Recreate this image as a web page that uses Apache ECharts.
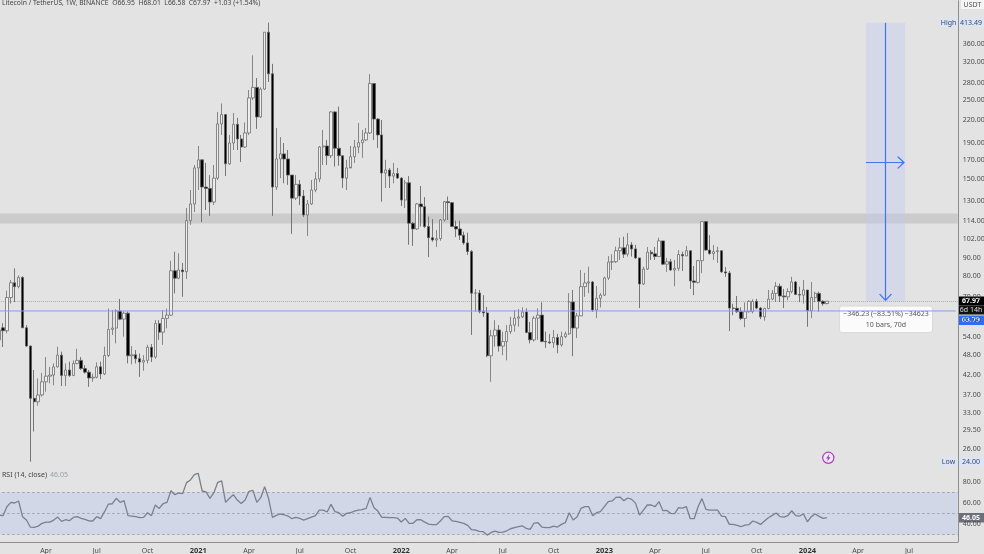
<!DOCTYPE html>
<html>
<head>
<meta charset="utf-8">
<style>html,body{margin:0;padding:0;background:#e3e3e3}#c{width:984px;height:554px}</style>
<script src="https://cdn.jsdelivr.net/npm/echarts@6/dist/echarts.min.js"></script>
</head>
<body>
<div id="c"></div>
<script>
const firstWeek = '2020-01-13';
const totalSlots = 246;
const opens = [
52.9,57.2,56.1,69.6,76.6,74.7,79.3,57.2,50.8,36.2,
35.4,37,40.3,41.8,42.1,44.4,47.9,42,43.5,42,
45.4,46.3,43.9,42.9,41.3,41.5,44.4,42.4,47.8,56.6,
57.1,63.8,60.5,62.9,47.7,48,46.8,45.8,46.3,50.4,
47.3,58.8,55.6,60.8,62.1,82.8,78.9,83.2,82.3,114.6,
127.7,161.3,170,142.5,141.2,129.3,151,214.6,228,165.7,
189.6,214,194.7,184.8,202.4,254,272,224.5,269,389,
297,142.5,171,176.7,171,154,132.6,145,134.4,118.9,
127.7,139.8,150.2,184.8,186,174.6,232,183.3,174.6,151,
161.3,173.5,184.8,190,193.4,202.4,278.8,221.5,199.8,156,
159.2,153,155.5,151,131,146.5,112.7,108.6,127.7,125.5,
110.3,102.6,101.1,102,115.1,129.6,128.8,110.3,108.6,104.3,
99.2,93.8,71.6,71.7,63.5,63,47.7,54.3,56.4,50.8,
52.3,55.8,58.2,60.9,61.4,63.4,55.5,52.9,60.9,62.1,
52.3,52.2,51.9,53.7,51.2,54,55,67.6,57.1,61.8,
74.7,76.5,77,64.2,69.3,70.7,79,87.6,87.8,94.3,
96.1,92.2,97.9,95.4,90,76,83.7,93.4,92.4,90.8,
100.5,86.4,87.8,83.2,84.1,92,91.2,94.3,77.5,76.8,
88.4,113.9,94.7,92.6,93.7,94.3,82.2,81.6,65,64.9,
63.5,60.8,63.5,63.5,67.9,65,61.4,64.8,68.9,71.5,
74.9,70.3,69.9,72.3,77,71,70.7,73.1,63.9,69.6,
71.5,67.9,66.95];
const closes = [
56.4,56.1,69.6,76.6,74.7,79.3,57.2,50.8,36.2,35.4,
37,40.3,41.8,42.1,44.4,47.9,42,43.5,42,45.4,
46.3,43.9,42.9,41.3,41.5,44.4,42.4,47.8,56.6,57.1,
63.8,60.5,62.9,47.7,48,46.8,45.8,46.3,50.4,47.3,
58.8,55.6,60.8,62.1,82.8,78.9,83.2,82.3,114.6,127.7,
161.3,170,142.5,141.2,129.3,151,214.6,228,165.7,189.6,
214,194.7,184.8,202.4,254,272,224.5,269,389,297,
142.5,171,176.7,171,154,132.6,145,134.4,118.9,127.7,
139.8,150.2,184.8,186,174.6,232,183.3,174.6,151,161.3,
173.5,184.8,190,193.4,202.4,278.8,221.5,199.8,156,159.2,
153,155.5,151,131,146.5,112.7,108.6,127.7,125.5,110.3,
102.6,101.1,102,115.1,129.6,128.8,110.3,108.6,104.3,99.2,
93.8,71.6,71.7,63.5,63,47.7,54.3,56.4,50.8,52.3,
55.8,58.2,60.9,61.4,63.4,55.5,52.9,60.9,62.1,52.3,
52.2,51.9,53.7,51.2,54,55,67.6,57.1,61.8,74.7,
76.5,77,64.2,69.3,70.7,79,87.6,87.8,94.3,96.1,
92.2,97.9,95.4,90,76,83.7,93.4,92.4,90.8,100.5,
86.4,87.8,83.2,84.1,92,91.2,94.3,77.5,76.8,88.4,
113.9,94.7,92.6,93.7,94.3,82.2,81.6,65,64.9,63.5,
60.8,63.5,67.9,67.9,65,61.4,64.8,68.9,71.5,74.9,
70.3,69.9,72.3,77,71,70.7,73.1,63.9,69.6,71.5,
67.9,66.9,67.97];
const highs = [
57.8,58.9,72.8,78,84.1,80.4,79.9,58.2,51,43.5,
41.2,42.7,47.3,44.4,45.4,50.6,49,45.4,45.9,46.3,
49.9,47.3,44.9,43.5,42.5,45.7,45.9,50.6,64.8,64.2,
64.5,69,63.6,63.6,50.8,49.5,48.4,47.9,51.2,51.5,
60.1,60.1,64.2,64.8,88.4,93.7,92.7,87.1,124.4,139.8,
164.4,186,170,166.7,154,164.4,232,245,228,199.8,
230.3,223.2,199.8,216.6,267.4,335,289,272,389,414,
316.8,209,197,189.6,181.2,154,154,149.2,139.8,131,
149.2,157,186,206.4,193.4,233,233,240,174.6,170,
186,193.4,216,206.4,209,296.5,278.8,223,220,170,
161.3,166.7,161.3,152,149.2,153,113.5,128.5,143.5,133.5,
117.7,115.8,107.9,115.8,130.2,134,129.3,114.5,114.6,106.7,
106,94.7,73.5,73.1,70.7,65.5,56.4,60.1,58.2,55.8,
58.2,61.4,64.2,64.6,65.3,64.9,59.4,61.7,64.9,67.5,
55.8,55,56.4,55,55.8,55.8,71.6,73.1,63,83.2,
81.7,85,77.5,75,71.6,79.7,91,92.2,96.8,102.6,
103.3,105.7,99.7,97.9,90,85,96.6,94.7,96.6,102.6,
100.5,90,89.4,88.8,94.7,93.7,97.3,94.3,85.4,88.8,
113.9,114,104.3,97.9,96.8,94.3,84.8,82.7,66.8,70.3,
65.3,67.4,68.4,68.8,69,65.5,65.2,73.1,73.1,77,
76.2,73.6,73.9,79.6,77.5,74.7,78,73.1,77,72.3,
72.3,68.4,68.01];
const lows = [
48.9,50.5,55.2,66.9,67.6,73.9,57.1,50.6,24,29.2,
34.5,36.6,37.8,39.9,39.4,44.2,39.2,39.2,41.6,41.8,
45.1,43.5,42.5,39,40.3,41.2,41,42.1,47.3,54.6,
51.7,60.1,54,45.4,45.1,45.4,41.6,43.3,45.4,45.8,
46.8,52.9,51.2,57,61.8,71.5,78.4,69.9,78.5,111.5,
121.2,139.8,113.5,122.8,118.2,126.8,149.2,199.8,153,164.4,
181.2,181.2,167.7,183.6,199.8,250.6,207.8,223,267.4,281.6,
118.2,139.8,151,146,144.5,105.2,131,126.8,117.4,103.8,
126.8,137.8,147.2,164.4,164.4,172,162.7,163.6,141.6,139.8,
162.5,166.7,177.5,172.3,192,201,193.4,183.6,129.6,141.6,
141.6,146,150.2,126,124.4,98,97.3,107.9,110.3,109.3,
90.5,100,96.6,100.6,113.9,115.1,110,103,101.1,98,
91.8,54.6,63.5,62.8,61.4,47.3,40.3,50.6,49,47.9,
46.3,55,55.8,57.6,60.9,55.2,51.7,52.3,52.9,52.1,
50.2,51.5,50.2,48.5,50.6,53.5,54.6,47.6,53.5,61.7,
69.9,71.6,63.4,60.9,65.3,70.3,78,83.2,87.1,88.8,
90,90.8,90.8,89.4,65,75.5,83.2,88.8,88.8,90.6,
85.9,82.2,82.7,74.9,82.7,82.7,91,73.6,70.7,76.2,
81.5,94.2,91.8,88.8,87.1,81.7,79.6,56,62.1,63,
60.1,57.4,63.1,62.8,64.5,60.5,59.9,64.5,68.4,67.6,
67.6,65,68.4,71.5,70.7,67.6,66.9,57.6,60.9,67.6,
63.5,66,66.58];
const rsi = [
48.4,47.8,56.3,60.4,59.8,61.7,46.9,43.7,37.1,36.8,
38,40.6,41.8,41.8,43.7,46.5,42.4,44,43.1,46.2,
46.9,45.3,44.3,43,42.8,46.9,45,51.6,58.8,59.1,
64.2,60.4,62,47.8,47.5,46.9,45.9,46.2,50.6,47.8,
57.9,54.7,59.1,60.4,71.4,67.6,69.2,68.6,79,81.5,
86.5,87.8,71.1,70.2,64.2,69.5,79.3,80.6,60.4,64.2,
67.6,62.6,59.4,62.6,70.8,71.7,60.4,64.8,75.2,64.2,
46.2,48.1,49.4,48.7,47.5,45,46.2,45.3,43.7,45,
46.5,47.8,53.1,53.1,51.3,58.5,51.6,50.6,47.2,50,
50.6,52.2,53.1,53.5,54.7,65.1,55.4,52.2,46.2,46.2,
45.9,45.9,45.6,41.8,45.3,40.6,40.6,44,44,41.8,
39.9,39.3,39.3,42.8,46.9,47.2,43,42.4,41.5,40.6,
38.7,34.6,34.3,33,32.7,29.5,32,33.3,32,32.4,
33.6,35.5,36.5,37.4,38.3,35.8,34.9,40.9,41.2,37.1,
36.5,36.5,38,37.1,39.6,41.2,50.6,43.7,46.5,54.7,
56.3,56.3,47.8,50.6,51.6,56.3,61,61.7,65.1,65.4,
62,64.5,63.2,59.4,48.4,53.1,57.9,57.9,56.3,61,
52.5,52.8,50,49.7,55.4,55,56.3,45,45,56.3,
63.9,53.8,53.1,53.1,53.1,47.5,46.9,39.6,39.6,38.7,
37.4,39,39.3,42.8,41.5,39.6,42.8,45.9,48.1,50.3,
46.9,46.5,47.8,52.5,47.8,47.5,49.4,42.1,46.9,49.4,
47.2,45.3,46.05];
const priceTicks = [26,29.5,33,37,42,48,54,60,70,80,90,102,114,130,150,170,190,220,250,280,320,360];
const rsiTicks = [40,60,80];
const timeTicks = {
 '2020-04-06':'Apr','2020-07-06':'Jul','2020-10-05':'Oct','2021-01-04':'2021',
 '2021-04-05':'Apr','2021-07-05':'Jul','2021-10-04':'Oct','2022-01-03':'2022',
 '2022-04-04':'Apr','2022-07-04':'Jul','2022-10-03':'Oct','2023-01-02':'2023',
 '2023-04-03':'Apr','2023-07-03':'Jul','2023-10-02':'Oct','2024-01-01':'2024',
 '2024-04-01':'Apr','2024-07-01':'Jul'};
const lastClose = 67.97, bluePrice = 63.79, zoneLow = 112.5, zoneHigh = 120;
const allTimeHigh = 413.49, arrowY = 167, downArrowEnd = 69.6;
const rangeStart = 222, rangeMid = 227, rangeEnd = 232;

const weeks = [];
for (let i = 0; i < totalSlots; i++) {
  const d = new Date(Date.parse(firstWeek + 'T00:00:00Z') + i * 7 * 86400000);
  weeks.push(d.toISOString().slice(0, 10));
}
const ohlc = opens.map((o, i) => [o, closes[i], lows[i], highs[i]]);

const FONT = '"Noto Sans", sans-serif';
const DIM = '#4a4a4a';
const BLUE = '#3f74f2';
const chevUp = 'path://M0 9.2 L5 0 L10 9.2 L9.1 9.9 L5 2.4 L0.9 9.9 Z M4.55 1 L5.45 1 L5.45 5.2 L4.55 5.2 Z';

const fmt2 = v => Number(v).toFixed(2);
const tag = (x, y, w, h, bg, text, color, fw) => ({
  type: 'group', z: 100,
  children: [
    { type: 'rect', shape: { x, y, width: w, height: h }, style: { fill: bg } },
    { type: 'text', style: { x: x + w / 2, y: y + h / 2, text, fill: color, font: (fw || 'normal') + ' 7px ' + FONT, align: 'center', verticalAlign: 'middle' } }
  ]
});

const option = {
  animation: false,
  backgroundColor: '#e3e3e3',
  grid: [
    { left: -2.85, top: 0.8, width: 960.6, height: 468, outerBoundsMode: 'none' },
    { left: -2.85, top: 468, width: 960.6, height: 74, outerBoundsMode: 'none' }
  ],
  xAxis: [
    { type: 'category', gridIndex: 0, data: weeks, boundaryGap: true,
      axisLine: { show: false }, axisTick: { show: false }, axisLabel: { show: false }, splitLine: { show: false } },
    { type: 'category', gridIndex: 1, data: weeks, boundaryGap: true,
      axisLine: { show: true, lineStyle: { color: '#8f8f8f', width: 1 } },
      axisTick: { show: false },
      splitLine: { show: false },
      axisLabel: {
        show: true, margin: 5, color: DIM, fontFamily: FONT, fontSize: 7, hideOverlap: false,
        interval: (i, v) => timeTicks[v] !== undefined,
        formatter: v => {
          const t = timeTicks[v] || '';
          return /^\d{4}$/.test(t) ? '{y|' + t + '}' : t;
        },
        rich: { y: { fontWeight: 'bold', fontSize: 7.5, color: '#333', fontFamily: FONT } }
      } }
  ],
  yAxis: [
    { type: 'log', logBase: 10, gridIndex: 0, position: 'right', min: 22.92, max: 476.9, scale: true,
      axisLine: { show: true, onZero: false, lineStyle: { color: '#8f8f8f', width: 1 } },
      axisTick: { show: false }, splitLine: { show: false }, minorTick: { show: false },
      axisLabel: { show: true, inside: false, margin: 5, color: DIM, fontFamily: FONT, fontSize: 7,
        customValues: priceTicks, formatter: fmt2 } },
    { type: 'value', gridIndex: 1, position: 'right', min: 23, max: 92.8,
      axisLine: { show: true, onZero: false, lineStyle: { color: '#8f8f8f', width: 1 } },
      axisTick: { show: false }, splitLine: { show: false },
      axisLabel: { show: true, margin: 5, color: DIM, fontFamily: FONT, fontSize: 7,
        customValues: rsiTicks, formatter: fmt2 } }
  ],
  series: [
    {
      type: 'candlestick', xAxisIndex: 0, yAxisIndex: 0, data: ohlc, barWidth: 2.9, z: 5,
      itemStyle: { color: '#eeeeee', color0: '#000000', borderColor: '#6e6e6e', borderColor0: '#5a5a5a', borderWidth: 0.8 },
      markArea: {
        silent: true,
        data: [
          [{ yAxis: zoneHigh, itemStyle: { color: '#cbcbcb' } }, { yAxis: zoneLow }],
          [{ xAxis: weeks[rangeStart], yAxis: allTimeHigh, itemStyle: { color: 'rgba(190,200,238,0.42)' } },
           { xAxis: weeks[rangeEnd], yAxis: lastClose }]
        ]
      },
      markLine: {
        silent: true, symbol: 'none', animation: false,
        label: { show: false },
        data: [
          [ { coord: [weeks[rangeMid], allTimeHigh], symbol: 'none', lineStyle: { color: BLUE, width: 1.2, type: 'solid' } },
            { coord: [weeks[rangeMid], downArrowEnd], symbol: chevUp, symbolSize: [13, 7.5] } ],
          [ { coord: [weeks[rangeStart], arrowY], symbol: 'none', lineStyle: { color: BLUE, width: 1.2, type: 'solid' } },
            { coord: [weeks[rangeEnd - 1], arrowY], symbol: chevUp, symbolSize: [13, 7.5] } ]
        ]
      }
    },
    {
      type: 'line', xAxisIndex: 0, yAxisIndex: 0, data: [], showSymbol: false, z: 3,
      markLine: { silent: true, symbol: 'none', animation: false, label: { show: false },
        lineStyle: { color: '#adadad', width: 1, type: 'dotted' }, data: [{ yAxis: lastClose }] }
    },
    {
      type: 'line', xAxisIndex: 0, yAxisIndex: 0, data: [{ value: [weeks[0], bluePrice] }, { value: [weeks[totalSlots - 1], bluePrice] }],
      showSymbol: false, symbol: 'none', z: 6,
      lineStyle: { color: '#7fa0ea', width: 1 }
    },
    {
      type: 'line', xAxisIndex: 1, yAxisIndex: 1, data: rsi, showSymbol: false, symbol: 'none', z: 5,
      lineStyle: { color: '#7c7f8e', width: 1.3 },
      markArea: { silent: true, data: [[{ yAxis: 70, itemStyle: { color: '#d2d7e7' } }, { yAxis: 30 }]] },
      markLine: {
        silent: true, symbol: 'none', animation: false, label: { show: false },
        lineStyle: { color: '#a3a5ad', width: 1, type: [2.5, 2.5] },
        data: [{ yAxis: 70 }, { yAxis: 50 }, { yAxis: 30 }]
      }
    }
  ],
  graphic: [
    { type: 'text', z: 100, style: { x: 2, y: 3.5, text: 'Litecoin / TetherUS, 1W, BINANCE  O66.95  H68.01  L66.58  C67.97  +1.03 (+1.54%)',
        fill: '#444', font: '6.8px ' + FONT, verticalAlign: 'middle' } },
    { type: 'text', z: 100, style: { x: 2, y: 475, text: 'RSI (14, close)', fill: '#444', font: '7px ' + FONT, verticalAlign: 'middle' } },
    { type: 'text', z: 100, style: { x: 50, y: 475, text: '46.05', fill: '#9a9da8', font: '7px ' + FONT, verticalAlign: 'middle' } },
    tag(961, 0, 23, 9, '#f5f5f5', 'USDT', '#555'),
    tag(940, 18, 17, 9, '#dbe5f6', 'High', '#3a4a6b'),
    tag(958, 18, 26, 9, '#dbe5f6', '413.49', '#3a4a6b'),
    tag(940, 457, 17, 9, '#dbe5f6', 'Low', '#3a4a6b'),
    tag(958, 457, 26, 9, '#dbe5f6', '24.00', '#3a4a6b'),
    tag(958, 296.5, 26, 9, '#000', '67.97', '#fff', 'bold'),
    tag(958, 305.5, 26, 9, '#111', '6d 14h', '#ddd'),
    tag(958, 315.5, 26, 9.5, '#2f6df5', '63.79', '#fff', 'bold'),
    tag(958, 513, 26, 9.5, '#6d6f7a', '46.05', '#fff', 'bold'),
    { type: 'group', z: 100, children: [
      { type: 'rect', shape: { x: 840, y: 306.5, width: 92, height: 25.5, r: 2 }, style: { fill: '#fbfbfb', shadowBlur: 2, shadowColor: 'rgba(0,0,0,0.12)' } },
      { type: 'text', style: { x: 886, y: 313.5, text: '\u2212346.23 (\u221283.51%) \u221234623', fill: '#555', font: '7px ' + FONT, align: 'center', verticalAlign: 'middle' } },
      { type: 'text', style: { x: 886, y: 324.5, text: '10 bars, 70d', fill: '#555', font: '7px ' + FONT, align: 'center', verticalAlign: 'middle' } }
    ] },
    { type: 'group', z: 100, children: [
      { type: 'circle', shape: { cx: 828.3, cy: 457.8, r: 5.6 }, style: { fill: '#ececf0', stroke: '#b23ac4', lineWidth: 1.2 } },
      { type: 'polygon', shape: { points: [[829.6,453.8],[826,458.4],[828,458.4],[827,461.8],[830.6,457.2],[828.6,457.2]] }, style: { fill: '#b23ac4' } }
    ] }
  ]
};
const chart = echarts.init(document.getElementById('c'), null, { renderer: 'canvas', width: 984, height: 554 });
chart.setOption(option);
</script>
</body>
</html>
